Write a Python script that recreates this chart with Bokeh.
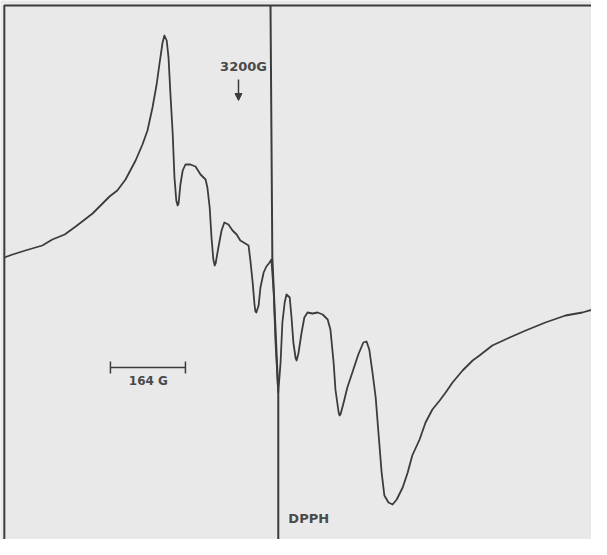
from bokeh.plotting import figure
from bokeh.models import Range1d, Arrow, NormalHead, ColumnDataSource
from bokeh.core.properties import value
from bokeh.embed import file_html
from bokeh.resources import INLINE

# EPR spectrum (first derivative), magnetic field in gauss, signal in arbitrary units
field_G = [2688, 2706, 2734, 2771, 2793, 2820, 2844, 2881, 2918, 2935,
           2953, 2975, 2990, 3001, 3012, 3021, 3027, 3034, 3038, 3043,
           3047, 3051, 3056, 3060, 3064, 3067, 3069, 3073, 3078, 3084, 3095,
           3106, 3117, 3128, 3132, 3137, 3141, 3145, 3148, 3150, 3156, 3163,
           3169, 3178, 3187, 3196, 3204, 3215, 3222, 3226, 3231, 3235,
           3237, 3239, 3244, 3248, 3255, 3261, 3268, 3272, 3277, 3281, 3287,
           3292, 3296, 3301, 3305, 3312, 3316, 3320, 3325, 3327, 3331, 3338,
           3344, 3351, 3362, 3373, 3384, 3395, 3401, 3408, 3412, 3419,
           3421, 3423, 3430, 3438, 3449, 3462, 3473, 3480, 3486, 3493, 3500,
           3506, 3513, 3519, 3528, 3537, 3546, 3559, 3570, 3580, 3596,
           3609, 3624, 3640, 3653, 3668, 3690, 3712, 3727, 3755, 3793,
           3828, 3871, 3915, 3952, 3989]
signal = [3.5, 3.8, 4.2, 4.7, 5.3, 5.8, 6.6, 7.9, 9.6, 10.2,
          11.3, 13.2, 14.8, 16.2, 18.5, 20.8, 22.8, 25.0, 25.7, 25.2,
          23.5, 20.0, 16.0, 11.5, 9.2, 8.7, 8.9, 10.8, 12.2, 12.8, 12.8,
          12.6, 11.8, 11.3, 10.5, 8.5, 5.5, 3.3, 2.7, 2.9, 4.5, 6.2,
          7.0, 6.8, 6.2, 5.8, 5.2, 4.9, 4.7, 3.2, 1.0, -1.2,
          -1.9, -2.0, -1.3, 0.5, 2.0, 2.6, 3.0, 3.3, 0.0, -5.0, -10.0,
          -7.0, -3.0, -1.0, -0.2, -0.5, -2.5, -5.0, -6.6, -6.8, -6.1, -4.0,
          -2.5, -2.0, -2.1, -2.0, -2.2, -2.7, -3.7, -7.0, -9.7, -12.0,
          -12.3, -12.2, -11.0, -9.5, -8.0, -6.2, -5.0, -4.9, -5.7, -8.0, -10.5,
          -14.0, -18.0, -20.3, -21.0, -21.2, -20.7, -19.5, -18.0, -16.3, -14.7,
          -13.0, -11.7, -10.8, -10.0, -9.0, -7.8, -6.8, -6.3, -5.3, -4.5,
          -3.8, -3.0, -2.3, -2.0, -1.5]

# DPPH reference marker trace
dpph_field = [3270, 3274, 3287, 3287]
dpph_signal = [28.7, 3.5, -10.0, -25.5]

# frame of the recorder chart
frame_left_G = 2688
frame_top = 28.7
frame_right_G = 3995
frame_bottom = -25.5

# annotations
marker_field = 3200          # 3200 G arrow
marker_label = "3200G"
scale_start_G = 2920
scale_length_G = 164
scale_label = "164 G"
dpph_label = "DPPH"

ink = "#3c3c3c"
paper = "#e9e9e9"

p = figure(width=591, height=539, output_backend="svg", toolbar_location=None,
           x_range=Range1d(2679.6, 3971.9), y_range=Range1d(-24.7, 29.2),
           x_axis_type=None, y_axis_type=None,
           min_border=0, min_border_left=0, min_border_right=0,
           min_border_top=0, min_border_bottom=0,
           background_fill_color=paper, border_fill_color=paper,
           outline_line_color=None)
p.grid.visible = False

# frame lines
p.line([frame_left_G, frame_left_G, frame_right_G], [frame_bottom, frame_top, frame_top],
       line_color=ink, line_width=2)
# DPPH line
p.line(dpph_field, dpph_signal, line_color=ink, line_width=2)
# spectrum
p.line(field_G, signal, line_color=ink, line_width=1.8, line_join="round")

# 3200 G arrow and label
p.add_layout(Arrow(end=NormalHead(size=7, fill_color=ink, line_color=ink, line_width=1),
                   x_start=marker_field, y_start=21.3, x_end=marker_field, y_end=19.2,
                   line_color=ink, line_width=1.5))
txt = ColumnDataSource(dict(x=[marker_field + 11, scale_start_G + 83, 3309],
                            y=[22.6, -8.8, -22.6],
                            t=[marker_label, scale_label, dpph_label],
                            s=["13px", "12px", "13px"],
                            a=["center", "center", "left"]))
p.text(x="x", y="y", text="t", text_align="a", text_baseline="middle",
       text_font_size="s",
       source=txt, text_font=value("DejaVu Sans"),
       text_font_style="bold", text_color="#4a4a4a")

# scale bar 164 G
sx = [scale_start_G, scale_start_G, scale_start_G + scale_length_G]
p.segment(x0=[sx[0], sx[1], sx[2]], y0=[-7.5, -6.9, -6.9],
          x1=[sx[0] + scale_length_G, sx[1], sx[2]], y1=[-7.5, -8.1, -8.1],
          line_color=ink, line_width=1.5)

open("out.html", "w").write(file_html(p, INLINE))
